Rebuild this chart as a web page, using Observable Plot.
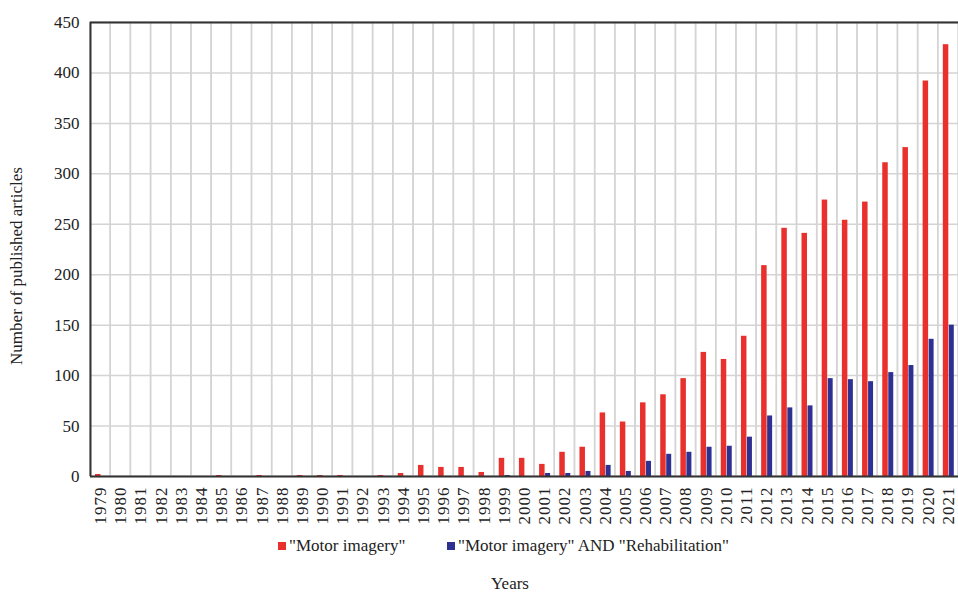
<!DOCTYPE html>
<html>
<head>
<meta charset="utf-8">
<script src="https://cdn.jsdelivr.net/npm/d3@7"></script>
<script src="https://cdn.jsdelivr.net/npm/@observablehq/plot@0.6"></script>
<style>
  html, body { margin: 0; padding: 0; background: #fff; overflow: hidden; }
  body { width: 958px; height: 593px; position: relative; font-family: "Liberation Serif", "Times New Roman", Times, "DejaVu Serif", "Noto Serif", serif; }
  #chart svg { display: block; overflow: visible; }
  #chart g[aria-label="x-axis tick label"] text { letter-spacing: 1px; }
  .legend { position: absolute; top: 536px; left: 0; width: 958px; font-size: 17px; color: #222; }
  .legend .item { position: absolute; top: 0; white-space: nowrap; }
  .legend .sw { display: inline-block; width: 8px; height: 8px; margin-right: 3px; vertical-align: 1px; }
  .xlabel { position: absolute; top: 574px; left: 0; width: 1020px; text-align: center; font-size: 17px; color: #222; }
  .ylabel { position: absolute; left: 17px; top: 266px; transform: translate(-50%, -50%) rotate(-90deg); white-space: nowrap; font-size: 17px; color: #222; }
</style>
</head>
<body>
<div id="chart"></div>
<div class="ylabel">Number of published articles</div>
<div class="legend">
  <span class="item" style="left:278px"><span class="sw" style="background:#e8302c"></span>"Motor imagery"</span>
  <span class="item" style="left:447px"><span class="sw" style="background:#2e3192"></span>"Motor imagery" AND "Rehabilitation"</span>
</div>
<div class="xlabel">Years</div>
<script>
const years = ["1979","1980","1981","1982","1983","1984","1985","1986","1987","1988","1989","1990","1991","1992","1993","1994","1995","1996","1997","1998","1999","2000","2001","2002","2003","2004","2005","2006","2007","2008","2009","2010","2011","2012","2013","2014","2015","2016","2017","2018","2019","2020","2021"];
const motorImagery = [2,0,0,0,0,0,1,0,1,0,1,1,1,0,1,3,11,9,9,4,18,18,12,24,29,63,54,73,81,97,123,116,139,209,246,241,274,254,272,311,326,392,428];
const motorImageryRehab = [0,0,0,0,0,0,0,0,0,0,0,0,0,0,0,0,0,0,0,0,1,0,3,3,5,11,5,15,22,24,29,30,39,60,68,70,97,96,94,103,110,136,150];
const yTicks = [0,50,100,150,200,250,300,350,400,450];

const data = years.map((y, i) => ({year: y, mi: motorImagery[i], rehab: motorImageryRehab[i]}));

const chart = Plot.plot({
  width: 958,
  height: 530,
  marginLeft: 90,
  marginRight: 0,
  marginTop: 22,
  marginBottom: 54,
  style: {fontFamily: "'Liberation Serif', 'Times New Roman', Times, 'DejaVu Serif', 'Noto Serif', serif", fontSize: "17px", color: "#222", background: "white"},
  x: {domain: years, padding: 0, round: false, label: null},
  y: {domain: [0, 450], label: null},
  marks: [
    Plot.gridY(yTicks, {stroke: "#d4d4d4", strokeOpacity: 1, strokeWidth: 1.5}),
    Plot.barY(years, {x: d => d, y1: 0, y2: 450, fill: "none", stroke: "#d4d4d4", strokeWidth: 1.5}),
    Plot.barY(data, {x: "year", y: "mi", fill: "#e8302c", insetLeft: 5, insetRight: 9.7}),
    Plot.barY(data, {x: "year", y: "rehab", fill: "#2e3192", insetLeft: 11, insetRight: 4.2}),
    Plot.axisY(yTicks, {tickSize: 0, tickPadding: 11, fontSize: 17, label: null}),
    Plot.axisX({tickSize: 0, tickPadding: 10, tickRotate: -90, fontSize: 17, label: null}),
    Plot.ruleY([0, 450], {stroke: "#333", strokeWidth: 2}),
    Plot.axisY({tickSize: 0, ticks: [], label: null}),
    Plot.ruleX([years[0]], {stroke: "#333", strokeWidth: 2, x: () => years[0], insetLeft: 0, dx: -10.093})
  ]
});
document.getElementById("chart").appendChild(chart);
</script>
</body>
</html>
